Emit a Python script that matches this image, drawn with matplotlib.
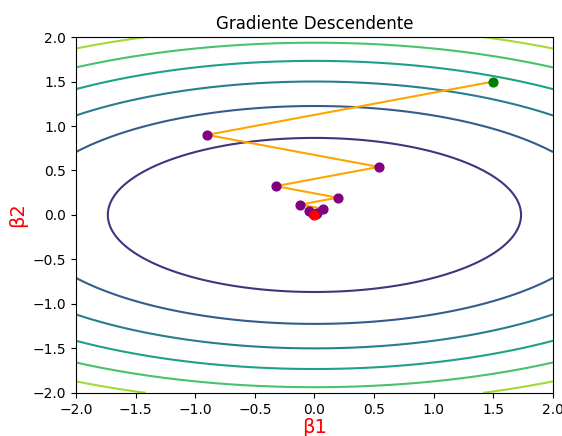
import numpy as np
import matplotlib
matplotlib.use("Agg")
import matplotlib.pyplot as plt

# contour levels of J(b1, b2) = b1^2 + 4*b2^2
levels = [3, 6, 9, 12, 15, 18]

# gradient descent path
b1_path = [1.5, -0.9, 0.54, -0.324, 0.194, -0.117, 0.07, -0.042, 0.025, -0.015, 0.009]
b2_path = [1.5, 0.9, 0.54, 0.324, 0.194, 0.117, 0.07, 0.042, 0.025, 0.015, 0.009]
final_point = (0.0, 0.0)

b1 = np.linspace(-2, 2, 400)
b2 = np.linspace(-2, 2, 400)
B1, B2 = np.meshgrid(b1, b2)
J = B1**2 + 4 * B2**2

fig = plt.figure(figsize=(5.62, 4.36), dpi=100)
ax = fig.add_axes([0.135, 0.099, 0.849, 0.816])

ax.contour(B1, B2, J, levels=levels, cmap="viridis", vmin=0, vmax=21, linewidths=1.5)

ax.plot(b1_path, b2_path, color="orange", zorder=2)
ax.scatter(b1_path[1:], b2_path[1:], color="purple", s=40, zorder=3)
ax.scatter(b1_path[0], b2_path[0], color="green", s=40, zorder=3)
ax.scatter(final_point[0], final_point[1], color="red", s=40, zorder=4)

ax.set_xlim(-2, 2)
ax.set_ylim(-2, 2)
ax.set_title("Gradiente Descendente")
ax.set_xlabel("β1", color="red", fontsize=14, labelpad=1)
ax.set_ylabel("β2", color="red", fontsize=14)

fig.savefig("out.png", dpi=100)
